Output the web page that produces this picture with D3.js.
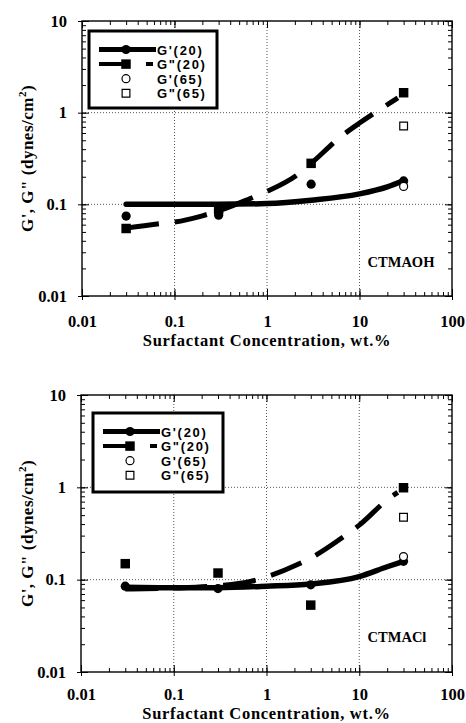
<!DOCTYPE html>
<html>
<head>
<meta charset="utf-8">
<script src="https://cdn.jsdelivr.net/npm/d3@7"></script>
<style>
  body { margin: 0; background: #fff; }
  svg { display: block; }
</style>
</head>
<body>
<svg id="chart" width="466" height="723"></svg>
<script>
// ---- axis ticks ----
const xTickValues = [0.01, 0.1, 1, 10, 100];
const xTickLabels = ["0.01", "0.1", "1", "10", "100"];
const yTickValues = [0.01, 0.1, 1, 10];
const yTickLabels = ["0.01", "0.1", "1", "10"];
const gridX = [0.1, 1, 10];
const gridY = [0.1, 1];

// ---- measured points (wt.%, dynes/cm2) ----
const concentration = [0.03, 0.3, 3, 30];
const hotConcentration = [30];
const legendLabels = ["G'(20)", "G\"(20)", "G'(65)", "G\"(65)"];
const panelNames = ["CTMAOH", "CTMACl"];

// CTMAOH
const ohStorage20 = [0.0745, 0.076, 0.166, 0.18];
const ohLoss20 = [0.0545, 0.088, 0.28, 1.65];
const ohStorage65 = [0.157];
const ohLoss65 = [0.714];
const ohStorageFitX = [0.03, 0.1, 0.3, 1, 3, 10, 20, 30];
const ohStorageFitY = [0.1, 0.1, 0.1, 0.102, 0.111, 0.13, 0.155, 0.182];
const ohLossFitX = [0.03, 0.065, 0.1, 0.2, 0.3, 0.65, 1, 2.2, 3, 6.6, 10, 21, 26];
const ohLossFitY = [0.055, 0.061, 0.064, 0.075, 0.085, 0.115, 0.138, 0.215, 0.28, 0.57, 0.77, 1.26, 1.45];

// CTMACl
const clStorage20 = [0.085, 0.08, 0.088, 0.158];
const clLoss20 = [0.149, 0.118, 0.053, 0.99];
const clStorage65 = [0.178];
const clLoss65 = [0.474];
const clStorageFitX = [0.03, 0.1, 0.3, 1, 3, 10, 20, 30];
const clStorageFitY = [0.083, 0.082, 0.082, 0.085, 0.09, 0.108, 0.138, 0.158];
const clLossFitX = [0.03, 0.1, 0.3, 0.65, 1, 2.1, 3.2, 6.7, 10, 21, 26];
const clLossFitY = [0.079, 0.081, 0.086, 0.095, 0.107, 0.144, 0.178, 0.29, 0.39, 0.76, 0.88];

// ---- layout ----
const panels = [
  {
    name: panelNames[0], left: 82, right: 452, top: 21, bottom: 296, titleDy: 50, tickPad: 15,
    legend: { x: 89, y: 31, w: 128, h: 77 },
    nameDx: -51, nameDy: -29,
    storage20: ohStorage20, loss20: ohLoss20, storage65: ohStorage65, loss65: ohLoss65,
    storageFit: [ohStorageFitX, ohStorageFitY], lossFit: [ohLossFitX, ohLossFitY]
  },
  {
    name: panelNames[1], left: 81, right: 452, top: 395, bottom: 672, titleDy: 47, tickPad: 12.5,
    legend: { x: 93, y: 413, w: 130, h: 79 },
    nameDx: -55, nameDy: -30,
    storage20: clStorage20, loss20: clLoss20, storage65: clStorage65, loss65: clLoss65,
    storageFit: [clStorageFitX, clStorageFitY], lossFit: [clLossFitX, clLossFitY]
  }
];

const serif = "'Liberation Serif', 'Times New Roman', serif";
const sans = "'Liberation Sans', Arial, sans-serif";
const dashPattern = "33,16";
const labelSize = "16.5px";

const svg = d3.select("#chart");

panels.forEach(p => {
  const w = p.right - p.left, h = p.bottom - p.top;
  const x = d3.scaleLog().domain([0.01, 100]).range([0, w]);
  const y = d3.scaleLog().domain([0.01, 10]).range([h, 0]);
  const g = svg.append("g").attr("transform", `translate(${p.left},${p.top})`);

  // dotted grid at decades
  g.append("g").selectAll("line").data(gridX).join("line")
    .attr("x1", d => x(d)).attr("x2", d => x(d)).attr("y1", 0).attr("y2", h)
    .attr("stroke", "#444").attr("stroke-width", 0.9).attr("stroke-dasharray", "1,2");
  g.append("g").selectAll("line").data(gridY).join("line")
    .attr("y1", d => y(d)).attr("y2", d => y(d)).attr("x1", 0).attr("x2", w)
    .attr("stroke", "#444").attr("stroke-width", 0.9).attr("stroke-dasharray", "1,2");

  // tick marks on all four sides, pointing inward
  const minorX = x.ticks();
  const minorY = y.ticks();
  const tickGroup = (axis, tx, ty) => {
    const a = g.append("g").attr("transform", `translate(${tx},${ty})`).call(axis);
    a.select(".domain").remove();
    a.selectAll("line").attr("stroke", "#000").attr("stroke-width", 1);
    return a;
  };
  tickGroup(d3.axisBottom(x).tickValues(minorX).tickSize(-4).tickFormat(""), 0, h);
  tickGroup(d3.axisTop(x).tickValues(minorX).tickSize(-4).tickFormat(""), 0, 0);
  tickGroup(d3.axisLeft(y).tickValues(minorY).tickSize(-4).tickFormat(""), 0, 0);
  tickGroup(d3.axisRight(y).tickValues(minorY).tickSize(-4).tickFormat(""), w, 0);
  tickGroup(d3.axisBottom(x).tickValues(xTickValues).tickSize(-7).tickFormat(""), 0, h);
  tickGroup(d3.axisTop(x).tickValues(xTickValues).tickSize(-7).tickFormat(""), 0, 0);
  tickGroup(d3.axisLeft(y).tickValues(yTickValues).tickSize(-7).tickFormat(""), 0, 0);
  tickGroup(d3.axisRight(y).tickValues(yTickValues).tickSize(-7).tickFormat(""), w, 0);

  // labelled axes
  const xa = tickGroup(d3.axisBottom(x).tickValues(xTickValues).tickSize(4).tickPadding(p.tickPad)
    .tickFormat((d, i) => xTickLabels[i]), 0, h);
  const ya = tickGroup(d3.axisLeft(y).tickValues(yTickValues).tickSize(4).tickPadding(11)
    .tickFormat((d, i) => yTickLabels[i]), 0, 0);
  [xa, ya].forEach(a => a.selectAll("text")
    .attr("fill", "#000").style("font-family", serif).style("font-weight", "bold").style("font-size", labelSize));

  // plot frame
  g.append("rect").attr("x", 0).attr("y", 0).attr("width", w).attr("height", h)
    .attr("fill", "none").attr("stroke", "#000").attr("stroke-width", 1.4);

  // axis titles
  g.append("text").attr("x", w / 2).attr("y", h + p.titleDy).attr("text-anchor", "middle")
    .style("font-family", serif).style("font-weight", "bold").style("font-size", labelSize)
    .style("letter-spacing", "0.7px")
    .text("Surfactant Concentration, wt.%");
  const yt = g.append("text")
    .attr("transform", `translate(${33 - p.left},${h / 2}) rotate(-90)`)
    .attr("text-anchor", "middle")
    .style("font-family", serif).style("font-weight", "bold").style("font-size", "17px")
    .style("letter-spacing", "0.5px");
  yt.append("tspan").text("G', G\" (dynes/cm");
  yt.append("tspan").attr("dy", -7).style("font-size", "11px").text("2");
  yt.append("tspan").attr("dy", 7).text(")");

  // fitted curves
  const line = d3.line().x(d => x(d[0])).y(d => y(d[1])).curve(d3.curveMonotoneX);
  const lossPts = d3.zip(p.lossFit[0], p.lossFit[1]);
  const storagePts = d3.zip(p.storageFit[0], p.storageFit[1]);
  g.append("path").attr("d", line(lossPts)).attr("fill", "none").attr("stroke", "#000")
    .attr("stroke-width", 5).attr("stroke-dasharray", dashPattern);
  g.append("path").attr("d", line(storagePts)).attr("fill", "none").attr("stroke", "#000")
    .attr("stroke-width", 5.5).attr("stroke-linecap", "round");

  // markers
  const sq = d3.symbol().type(d3.symbolSquare);
  g.append("g").selectAll("path").data(d3.zip(concentration, p.loss20)).join("path")
    .attr("d", sq.size(90)()).attr("transform", d => `translate(${x(d[0])},${y(d[1])})`)
    .attr("fill", "#000");
  g.append("g").selectAll("circle").data(d3.zip(concentration, p.storage20)).join("circle")
    .attr("cx", d => x(d[0])).attr("cy", d => y(d[1])).attr("r", 4.6).attr("fill", "#000");
  g.append("g").selectAll("path").data(d3.zip(hotConcentration, p.loss65)).join("path")
    .attr("d", sq.size(60)()).attr("transform", d => `translate(${x(d[0])},${y(d[1])})`)
    .attr("fill", "#fff").attr("stroke", "#000").attr("stroke-width", 1.2);
  g.append("g").selectAll("circle").data(d3.zip(hotConcentration, p.storage65)).join("circle")
    .attr("cx", d => x(d[0])).attr("cy", d => y(d[1])).attr("r", 4).attr("fill", "#fff")
    .attr("stroke", "#000").attr("stroke-width", 1.2);

  // panel name
  g.append("text").attr("x", w + p.nameDx).attr("y", h + p.nameDy).attr("text-anchor", "middle")
    .style("font-family", serif).style("font-weight", "bold").style("font-size", "14.5px")
    .text(p.name);

  // legend
  const L = p.legend;
  const lg = svg.append("g").attr("transform", `translate(${L.x},${L.y})`);
  lg.append("rect").attr("x", 0).attr("y", 0).attr("width", L.w).attr("height", L.h)
    .attr("fill", "#fff").attr("stroke", "#000").attr("stroke-width", 3);
  const textX = 68, markX = 37, lineX0 = 10;
  const rowY = i => 23.5 + i * 14.6;
  legendLabels.forEach((lab, i) => {
    const cy = rowY(i) - 5;
    if (i === 0) {
      lg.append("line").attr("x1", lineX0).attr("x2", textX - 1).attr("y1", cy).attr("y2", cy)
        .attr("stroke", "#000").attr("stroke-width", 5);
      lg.append("circle").attr("cx", markX).attr("cy", cy).attr("r", 4.6).attr("fill", "#000");
    } else if (i === 1) {
      lg.append("line").attr("x1", lineX0).attr("x2", textX - 4).attr("y1", cy).attr("y2", cy)
        .attr("stroke", "#000").attr("stroke-width", 4).attr("stroke-dasharray", "28,19");
      lg.append("path").attr("d", sq.size(90)()).attr("transform", `translate(${markX},${cy})`).attr("fill", "#000");
    } else if (i === 2) {
      lg.append("circle").attr("cx", markX).attr("cy", cy).attr("r", 4).attr("fill", "#fff")
        .attr("stroke", "#000").attr("stroke-width", 1.2);
    } else {
      lg.append("path").attr("d", sq.size(60)()).attr("transform", `translate(${markX},${cy})`)
        .attr("fill", "#fff").attr("stroke", "#000").attr("stroke-width", 1.2);
    }
    lg.append("text").attr("x", textX).attr("y", rowY(i))
      .style("font-family", sans).style("font-weight", "bold").style("font-size", "13px")
      .style("letter-spacing", "1.7px").text(lab);
  });
});
</script>
</body>
</html>
